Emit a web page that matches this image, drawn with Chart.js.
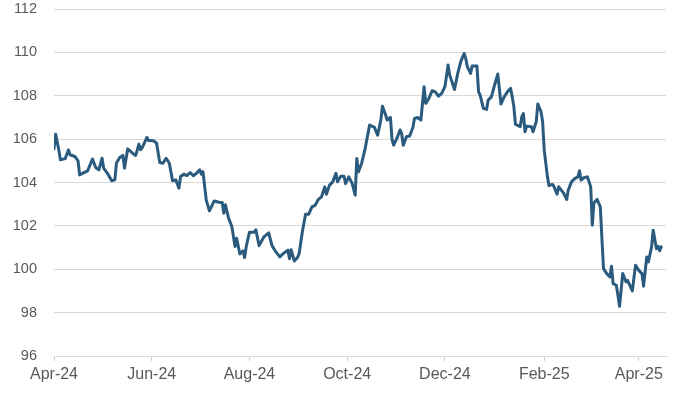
<!DOCTYPE html>
<html>
<head>
<meta charset="utf-8">
<script src="https://cdn.jsdelivr.net/npm/chart.js@4"></script>
<style>
html,body{margin:0;padding:0;background:#fff;}
#wrap{width:677px;height:393px;position:relative;}
</style>
</head>
<body>
<div id="wrap"><canvas id="c" width="677" height="393"></canvas></div>
<script>
// Days since 2024-04-01
const dayOffsets = [0,1,3,4,7,9,10,13,15,16,18,21,24,26,28,30,31,34,36,38,39,41,43,44,46,49,51,53,54,55,58,59,62,64,66,68,70,72,74,76,78,79,81,83,85,87,89,91,92,93,95,97,100,103,105,106,107,109,111,113,114,116,118,119,120,122,125,126,128,131,134,136,138,141,143,146,147,148,150,152,153,155,157,159,161,163,165,167,169,170,172,174,176,177,179,181,182,184,186,188,189,190,192,194,197,200,202,204,205,207,208,210,211,212,214,216,217,218,220,222,224,225,227,229,231,232,234,236,238,240,242,244,246,247,250,252,254,256,257,258,260,261,264,265,266,268,270,271,273,275,277,279,281,283,285,286,287,288,291,292,293,294,295,298,299,301,302,304,305,306,308,309,311,312,314,315,318,320,321,323,325,327,328,329,331,333,335,336,337,339,341,342,343,345,347,348,349,351,352,353,355,357,358,361,362,363,365,367,368,370,371,373,374,376,377,378,379];
const indexValues = [105.55,106.23,105.5,105.05,105.1,105.5,105.28,105.2,105.0,104.35,104.43,104.54,105.08,104.69,104.58,105.12,104.66,104.35,104.08,104.12,104.9,105.15,105.25,104.66,105.55,105.35,105.25,105.77,105.51,105.6,106.08,105.94,105.92,105.82,104.92,104.89,105.12,104.89,104.08,104.12,103.74,104.28,104.38,104.32,104.46,104.31,104.43,104.58,104.38,104.5,103.2,102.69,103.15,103.09,103.08,102.58,102.97,102.35,101.97,101.05,101.43,100.7,100.85,100.54,101.05,101.71,101.71,101.82,101.09,101.49,101.68,101.11,100.85,100.57,100.72,100.88,100.49,100.9,100.38,100.54,100.72,101.72,102.54,102.54,102.88,102.95,103.22,103.34,103.8,103.46,103.88,104.03,104.42,104.03,104.29,104.29,103.95,104.26,103.98,103.42,105.11,104.49,104.88,105.49,106.65,106.54,106.18,106.88,107.52,107.11,106.88,107.0,105.98,105.72,106.03,106.42,106.26,105.72,106.11,106.14,106.54,106.95,107.0,106.88,108.42,107.65,107.88,108.23,108.18,107.98,108.11,108.42,109.42,108.95,108.29,109.03,109.6,109.95,109.72,109.34,109.03,109.37,109.37,108.18,108.03,107.42,107.37,107.8,107.95,108.49,109.0,107.62,107.95,108.18,108.34,107.95,107.52,106.69,106.57,107.03,107.18,106.34,106.6,106.57,106.34,106.8,107.62,107.26,106.8,105.49,104.26,103.85,103.92,103.83,103.46,103.8,103.52,103.22,103.65,104.03,104.18,104.26,104.54,104.11,104.23,104.26,103.8,102.03,103.06,103.22,102.88,101.42,100.03,99.8,99.65,100.14,99.34,99.26,98.8,98.29,99.8,99.42,99.49,99.0,99.62,100.18,99.95,99.8,99.22,100.57,100.34,101.03,101.8,100.95,101.06,100.85,101.03];
const tickDays = [0,61,122,183,244,306,365];
const tickLabels = ['Apr-24','Jun-24','Aug-24','Oct-24','Dec-24','Feb-25','Apr-25'];
const yMin = 96, yMax = 112, yStep = 2;

const points = dayOffsets.map((d,i)=>({x:d,y:indexValues[i]}));

new Chart(document.getElementById('c'), {
  type:'line',
  data:{datasets:[{
    data:points,
    borderColor:'#2A5B7E',
    borderWidth:3,
    borderJoinStyle:'round',
    borderCapStyle:'round',
    pointRadius:0,
    tension:0,
    fill:false
  }]},
  options:{
    responsive:false,
    animation:false,
    plugins:{legend:{display:false},tooltip:{enabled:false}},
    layout:{padding:{top:9,right:11,left:0,bottom:0}},
    scales:{
      x:{
        type:'linear',
        min:0,max:382,
        afterBuildTicks:(s)=>{s.ticks=tickDays.map(v=>({value:v}));},
        afterFit:(s)=>{s.height=37;s.paddingLeft=0;s.paddingRight=0;},
        grid:{drawOnChartArea:false,drawTicks:true,tickLength:5,color:'#D0D0D0'},
        border:{display:true,color:'#D9D9D9',width:1},
        ticks:{
          autoSkip:false,maxRotation:0,padding:4,
          color:'#595959',
          font:{family:'"Liberation Sans Narrow","Liberation Sans",sans-serif',size:16},
          callback:(v)=>{const i=tickDays.indexOf(v);return i>=0?tickLabels[i]:'';}
        }
      },
      y:{
        min:yMin,max:yMax,
        afterFit:(s)=>{s.width=54;s.paddingTop=0;s.paddingBottom=0;},
        grid:{color:'#D9D9D9',lineWidth:1,drawTicks:false},
        border:{display:false},
        ticks:{
          stepSize:yStep,padding:17,color:'#595959',
          font:{family:'"Liberation Sans",sans-serif',size:14.5}
        }
      }
    }
  }
});
</script>
</body>
</html>
